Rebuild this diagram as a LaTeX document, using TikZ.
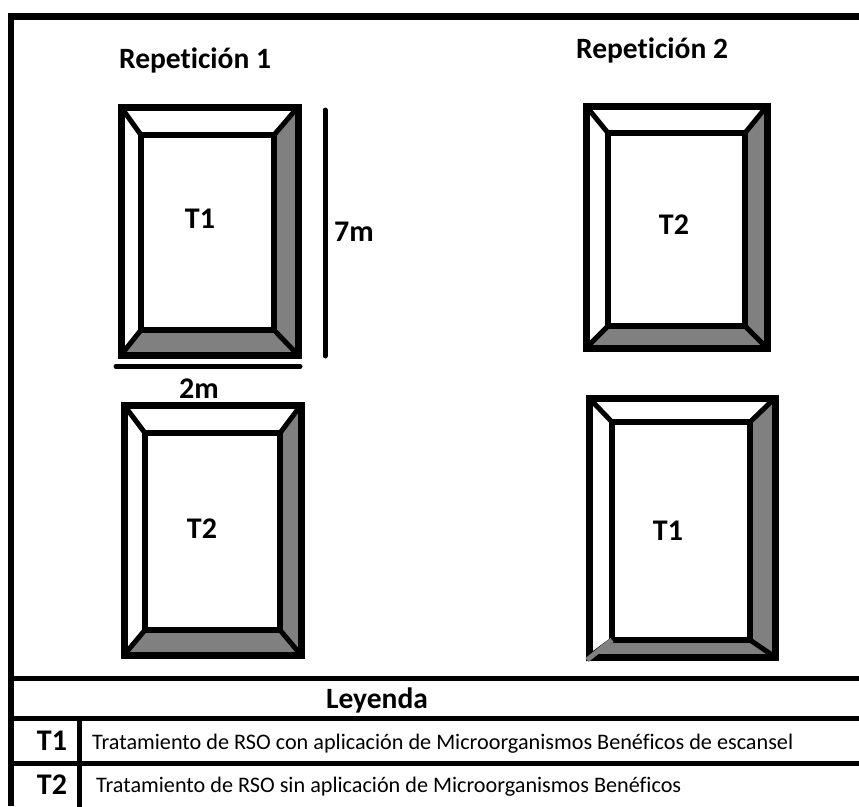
\documentclass[tikz,border=0pt]{standalone}
\usepackage{fontspec}
\setmainfont{Carlito}[Ligatures=NoCommon]
\usetikzlibrary{calc}
% parcela: outer corners (x1,y1)(x2,y2), inner corners (x1,y1)(x2,y2)
\def\parcela(#1,#2)(#3,#4)(#5,#6)(#7,#8){%
	\fill[black!50] (#3,#2) -- (#3,#4) -- (#7,#8) -- (#7,#6) -- cycle;
	\fill[black!50] (#1,#4) -- (#3,#4) -- (#7,#8) -- (#5,#8) -- cycle;
	\draw[line width=5pt] (#1,#2) -- (#5,#6);
	\draw[line width=5pt] (#3,#2) -- (#7,#6);
	\draw[line width=5pt] (#3,#4) -- (#7,#8);
	\draw[line width=5pt] (#1,#4) -- (#5,#8);
	\draw[line width=5.5pt] (#5,#6) rectangle (#7,#8);
	\draw[line width=7pt] (#1,#2) rectangle (#3,#4);
}

\begin{document}
\begin{tikzpicture}[x=1pt, y=-1pt,
		titulo/.style={anchor=base, font=\bfseries\fontsize{29.5}{31}\selectfont},
		trat/.style={anchor=base, font=\bfseries\fontsize{30}{32}\selectfont},
		desc/.style={anchor=base west, inner sep=0pt, font=\fontsize{22.2}{24}\selectfont}]
		%%%%% START %%%%%
		\useasboundingbox[fill=white] (0, 0) rectangle (859, 806);
		
		% marco
		\draw[line width=6.5pt] (11, 806) -- (11, 16.5) -- (862, 16.5);
		
		% parcelas
		\parcela(121,107)(298,355)(141,135)(274,330)
		\parcela(124,405)(301,655)(145,433)(280,630)
		\parcela(586,106)(767,348)(608,133)(745,326)
		\parcela(589,398)(775,657)(612,422)(750,640)
		\draw[line width=5pt, color=black!50] (587, 660) -- (612, 640);
		
		\node[titulo] (rep1) at (195, 68) {Repetición 1};
		\node[titulo] (rep2) at (652, 58) {Repetición 2};
		
		\node[trat] (p1) at (200, 228) {T1};
		\node[trat] (p2) at (202, 538) {T2};
		\node[trat] (p3) at (674, 234) {T2};
		\node[trat] (p4) at (668, 540) {T1};
		
		% cotas
		\draw[line width=5pt, line cap=round] (325, 110) -- (325, 356);
		\draw[line width=5pt, line cap=round] (116, 366.5) -- (300, 366.5);
		\node[trat] (largo) at (354, 241) {7m};
		\node[trat] (ancho) at (199, 398) {2m};
		
		% leyenda
		\draw[line width=5.5pt] (11, 678.5) -- (862, 678.5);
		\draw[line width=5.5pt] (11, 718.5) -- (862, 718.5);
		\draw[line width=5.5pt] (11, 763.5) -- (862, 763.5);
		\draw[line width=5pt] (79.5, 718.5) -- (79.5, 810);
		
		\node[titulo] (leyenda) at (377, 708) {Leyenda};
		\node[trat] (l1) at (52, 750) {T1};
		\node[trat] (l2) at (52, 794) {T2};
		\node[desc] (d1) at (92, 749) {Tratamiento de RSO con aplicación de Microorganismos Benéficos de escansel};
		\node[desc] (d2) at (96, 792) {Tratamiento de RSO sin aplicación de Microorganismos Benéficos};
		
		%%%%% END %%%%%
\end{tikzpicture}
\end{document}
